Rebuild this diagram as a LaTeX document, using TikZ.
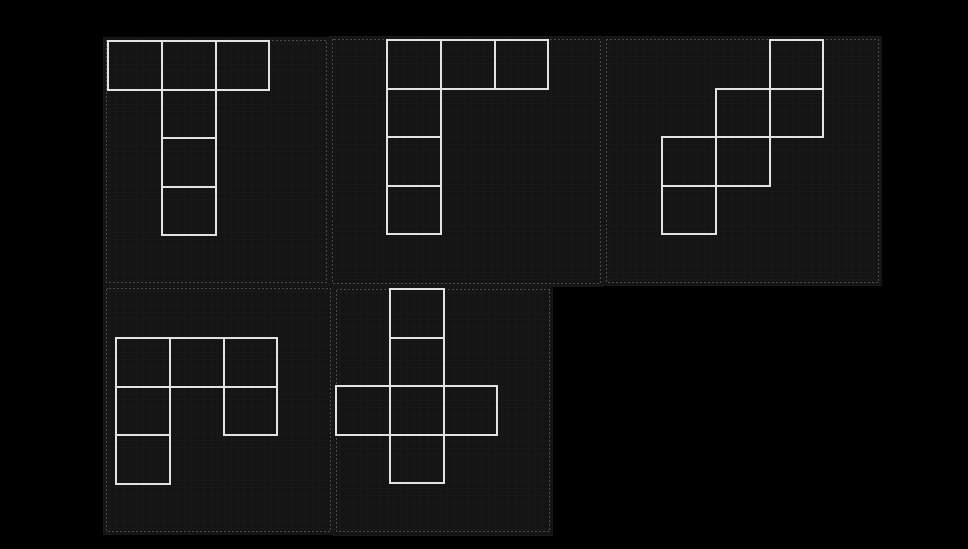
\documentclass[tikz,border=0pt]{standalone}
\usetikzlibrary{backgrounds}
\definecolor{PanelGray}{HTML}{141414}
\definecolor{GridGray}{HTML}{181818}
\definecolor{RimGray}{HTML}{4A4A4A}
\definecolor{NetWhite}{HTML}{E2E2E2}

\begin{document}
\begin{tikzpicture}[x=0.75pt,y=-0.75pt,
    panel/.style={fill=PanelGray},
    panelrim/.style={draw=RimGray,line width=0.6pt,dash pattern=on 1.5pt off 1.5pt},
    gridline/.style={draw=GridGray,line width=0.4pt},
    netline/.style={draw=NetWhite,line width=1.4pt,line join=miter}]
    \useasboundingbox (0,0) rectangle (968,549);
    \fill[black] (0,0) rectangle (968,549);

    % panels: dark fill, faint grid, dotted rim
    \foreach \x/\y/\X/\Y in {103/37/330/286,329/36/604/287,603/36/882/286,
                             103/285/334/535,333/286/553/535} {
      \fill[panel] (\x,\y) rectangle (\X,\Y);
      \begin{scope}
        \clip (\x,\y) rectangle (\X,\Y);
        \foreach \g in {0,6.75,...,280} {
          \draw[gridline] (\x+\g,\y) -- (\x+\g,\Y);
          \draw[gridline] (\x,\y+\g) -- (\X,\y+\g);
        }
      \end{scope}
      \draw[panelrim] (\x+3.5,\y+3.5) rectangle (\X-4,\Y-3.5);
    }

    % net 1: T
    \begin{scope}[shift={(108,41)},xscale=53.8,yscale=48.6]
      \foreach \c/\r in {0/0,1/0,2/0,1/1,1/2,1/3}
        \draw[netline] (\c,\r) rectangle ++(1,1);
    \end{scope}

    % net 2: L
    \begin{scope}[shift={(387,40)},xscale=53.8,yscale=48.6]
      \foreach \c/\r in {0/0,1/0,2/0,0/1,0/2,0/3}
        \draw[netline] (\c,\r) rectangle ++(1,1);
    \end{scope}

    % net 3: stairs
    \begin{scope}[shift={(662,40)},xscale=53.8,yscale=48.6]
      \foreach \c/\r in {2/0,1/1,2/1,0/2,1/2,0/3}
        \draw[netline] (\c,\r) rectangle ++(1,1);
    \end{scope}

    % net 4: hook
    \begin{scope}[shift={(116,338)},xscale=53.8,yscale=48.6]
      \foreach \c/\r in {0/0,1/0,2/0,0/1,2/1,0/2}
        \draw[netline] (\c,\r) rectangle ++(1,1);
    \end{scope}

    % net 5: cross
    \begin{scope}[shift={(336,289)},xscale=53.8,yscale=48.6]
      \foreach \c/\r in {1/0,1/1,0/2,1/2,2/2,1/3}
        \draw[netline] (\c,\r) rectangle ++(1,1);
    \end{scope}
\end{tikzpicture}
\end{document}
